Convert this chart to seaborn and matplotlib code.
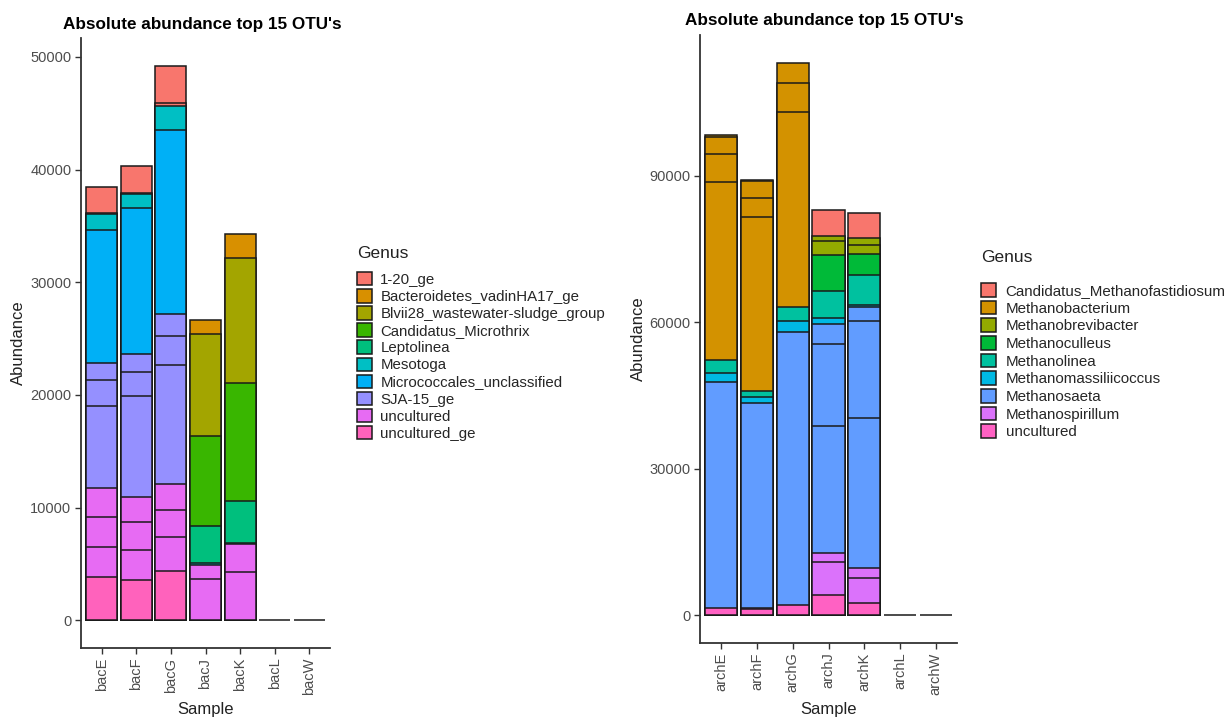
import matplotlib
matplotlib.use('Agg')
import matplotlib.pyplot as plt
import seaborn as sns
import pandas as pd
from matplotlib.patches import Patch

# ---------------- data: bacteria panel ----------------
bac_samples = ['bacE', 'bacF', 'bacG', 'bacJ', 'bacK', 'bacL', 'bacW']
bac_genera = ['1-20_ge', 'Bacteroidetes_vadinHA17_ge', 'Blvii28_wastewater-sludge_group',
              'Candidatus_Microthrix', 'Leptolinea', 'Mesotoga', 'Micrococcales_unclassified',
              'SJA-15_ge', 'uncultured', 'uncultured_ge']
bac_colors = ['#F8766D', '#D89000', '#A3A500', '#39B600', '#00BF7D', '#00BFC4', '#00B0F6',
              '#9590FF', '#E76BF3', '#FF62BC']

# segments, bottom to top within each sample
bac_seg_sample = (['bacE'] * 11 + ['bacF'] * 11 + ['bacG'] * 11 + ['bacJ'] * 7 + ['bacK'] * 7
                  + ['bacL', 'bacW'])
bac_seg_genus = (
    ['uncultured_ge', 'uncultured', 'uncultured', 'uncultured', 'SJA-15_ge', 'SJA-15_ge', 'SJA-15_ge',
     'Micrococcales_unclassified', 'Mesotoga', '1-20_ge', '1-20_ge']
    + ['uncultured_ge', 'uncultured', 'uncultured', 'uncultured', 'SJA-15_ge', 'SJA-15_ge', 'SJA-15_ge',
       'Micrococcales_unclassified', 'Mesotoga', '1-20_ge', '1-20_ge']
    + ['uncultured_ge', 'uncultured', 'uncultured', 'uncultured', 'SJA-15_ge', 'SJA-15_ge', 'SJA-15_ge',
       'Micrococcales_unclassified', 'Mesotoga', '1-20_ge', '1-20_ge']
    + ['uncultured', 'uncultured', 'Mesotoga', 'Leptolinea', 'Candidatus_Microthrix',
       'Blvii28_wastewater-sludge_group', 'Bacteroidetes_vadinHA17_ge']
    + ['uncultured', 'uncultured', 'Mesotoga', 'Leptolinea', 'Candidatus_Microthrix',
       'Blvii28_wastewater-sludge_group', 'Bacteroidetes_vadinHA17_ge']
    + ['uncultured', 'uncultured'])
bac_seg_value = (
    [3830, 2660, 2660, 2570, 7300, 2330, 1480, 11770, 1420, 120, 2330]
    + [3590, 2660, 2480, 2250, 8910, 2130, 1600, 12960, 1270, 110, 2320]
    + [4330, 3020, 2460, 2310, 10500, 2640, 1920, 16350, 2130, 240, 3310]
    + [3660, 1270, 150, 3250, 7990, 9110, 1180]
    + [4240, 2520, 120, 3690, 10510, 11030, 2130]
    + [0, 0])
bac_yticks = [0, 10000, 20000, 30000, 40000, 50000]

# ---------------- data: archaea panel ----------------
arch_samples = ['archE', 'archF', 'archG', 'archJ', 'archK', 'archL', 'archW']
arch_genera = ['Candidatus_Methanofastidiosum', 'Methanobacterium', 'Methanobrevibacter',
               'Methanoculleus', 'Methanolinea', 'Methanomassiliicoccus', 'Methanosaeta',
               'Methanospirillum', 'uncultured']
arch_colors = ['#F8766D', '#D39200', '#93AA00', '#00BA38', '#00C19F', '#00B9E3', '#619CFF',
               '#DB72FB', '#FF61C3']

arch_seg_sample = (['archE'] * 8 + ['archF'] * 9 + ['archG'] * 7 + ['archJ'] * 12 + ['archK'] * 12
                   + ['archL', 'archW'])
arch_seg_genus = (
    ['uncultured', 'Methanosaeta', 'Methanomassiliicoccus', 'Methanolinea',
     'Methanobacterium', 'Methanobacterium', 'Methanobacterium', 'Methanobacterium']
    + ['uncultured', 'Methanospirillum', 'Methanosaeta', 'Methanomassiliicoccus', 'Methanolinea',
       'Methanobacterium', 'Methanobacterium', 'Methanobacterium', 'Methanobacterium']
    + ['uncultured', 'Methanosaeta', 'Methanomassiliicoccus', 'Methanolinea',
       'Methanobacterium', 'Methanobacterium', 'Methanobacterium']
    + ['uncultured', 'Methanospirillum', 'Methanospirillum', 'Methanosaeta', 'Methanosaeta',
       'Methanosaeta', 'Methanomassiliicoccus', 'Methanolinea', 'Methanoculleus',
       'Methanobrevibacter', 'Methanobrevibacter', 'Candidatus_Methanofastidiosum']
    + ['uncultured', 'Methanospirillum', 'Methanospirillum', 'Methanosaeta', 'Methanosaeta',
       'Methanosaeta', 'Methanomassiliicoccus', 'Methanolinea', 'Methanoculleus',
       'Methanobrevibacter', 'Methanobrevibacter', 'Candidatus_Methanofastidiosum']
    + ['uncultured', 'uncultured'])
arch_seg_value = (
    [1440, 46210, 1920, 2740, 36370, 5680, 3630, 270]
    + [1160, 340, 41930, 1150, 1380, 35550, 3900, 3490, 210]
    + [2050, 55850, 2270, 2870, 40060, 5970, 4100]
    + [4040, 6900, 1710, 25980, 16960, 4040, 1230, 5460, 7380, 2880, 1020, 5330]
    + [2530, 5120, 1930, 30770, 19820, 2870, 410, 6150, 4390, 1910, 1370, 5130]
    + [0, 0])
arch_yticks = [0, 30000, 60000, 90000]

TITLE = "Absolute abundance top 15 OTU's"

sns.set_theme(style='ticks')
plt.rcParams['font.family'] = ['Liberation Sans', 'DejaVu Sans']

W, H = 1230, 719
fig = plt.figure(figsize=(W / 100, H / 100), dpi=100)


def px_axes(x0, y0, x1, y1):
    return fig.add_axes([x0 / W, 1 - y1 / H, (x1 - x0) / W, (y1 - y0) / H])


def draw(ax, samples, genera, colors, seg_s, seg_g, seg_v, yticks, ylabelpad):
    df = pd.DataFrame({'Sample': seg_s, 'Genus': seg_g, 'Abundance': seg_v})
    df['top'] = df.groupby('Sample', sort=False)['Abundance'].cumsum()
    df['rank'] = (df.groupby('Sample', sort=False)['top']
                  .rank(method='first', ascending=False).astype(int))
    pal = dict(zip(genera, colors))
    for r in sorted(df['rank'].unique()):
        sub = df[df['rank'] == r]
        sns.barplot(data=sub, x='Sample', y='top', hue='Genus', order=samples,
                    hue_order=genera, palette=pal, dodge=False, width=0.9,
                    edgecolor='#1a1a1a', linewidth=1.1, saturation=1,
                    legend=False, errorbar=None, ax=ax)
    ymax = df['top'].max()
    ax.set_ylim(-0.05 * ymax, 1.05 * ymax)
    ax.set_xlim(-0.6, len(samples) - 0.4)
    ax.set_yticks(yticks)
    ax.set_yticklabels([str(v) for v in yticks])
    ax.set_xticks(range(len(samples)))
    ax.set_xticklabels(samples, rotation=90)
    ax.tick_params(axis='both', colors='#333333', labelcolor='#4D4D4D', labelsize=10.5,
                   length=4, width=1.0, pad=3)
    for s in ['top', 'right']:
        ax.spines[s].set_visible(False)
    for s in ['left', 'bottom']:
        ax.spines[s].set_color('#333333')
        ax.spines[s].set_linewidth(1.3)
    ax.set_xlabel('Sample', fontsize=12, color='#222222', labelpad=5)
    ax.set_ylabel('Abundance', fontsize=12, color='#222222', labelpad=ylabelpad)
    ax.grid(False)
    ax.set_facecolor('white')
    handles = [Patch(facecolor=c, edgecolor='#1a1a1a', linewidth=1.1) for c in colors]
    return handles


ax1 = px_axes(81, 38, 330, 648)
h1 = draw(ax1, bac_samples, bac_genera, bac_colors, bac_seg_sample, bac_seg_genus,
          bac_seg_value, bac_yticks, 3)
ax2 = px_axes(700, 35, 957, 642.7)
h2 = draw(ax2, arch_samples, arch_genera, arch_colors, arch_seg_sample, arch_seg_genus,
          arch_seg_value, arch_yticks, 2)

fig.text(63 / W, 1 - 24 / H, TITLE, fontsize=12.3, fontweight='bold', va='center', ha='left',
         color='black')
fig.text(685 / W, 1 - 20 / H, TITLE, fontsize=12.3, fontweight='bold', va='center', ha='left',
         color='black')

# legend titles
fig.text(357 / W, 1 - 254 / H, 'Genus', fontsize=12.5, va='center', ha='left', color='#222222')
fig.text(981 / W, 1 - 258 / H, 'Genus', fontsize=12.5, va='center', ha='left', color='#222222')

leg1 = fig.legend(h1, bac_genera, loc='upper left',
                  bbox_to_anchor=(357 / W, 1 - 272 / H), frameon=False, fontsize=10.8,
                  handlelength=1.0, handleheight=1.0,
                  labelspacing=0.15, handletextpad=0.55, borderpad=0, borderaxespad=0)
leg2 = fig.legend(h2, arch_genera, loc='upper left',
                  bbox_to_anchor=(981 / W, 1 - 283 / H), frameon=False, fontsize=10.9,
                  handlelength=1.0, handleheight=1.0,
                  labelspacing=0.18, handletextpad=0.62, borderpad=0, borderaxespad=0)

fig.savefig('out.png', dpi=100, facecolor='white')
